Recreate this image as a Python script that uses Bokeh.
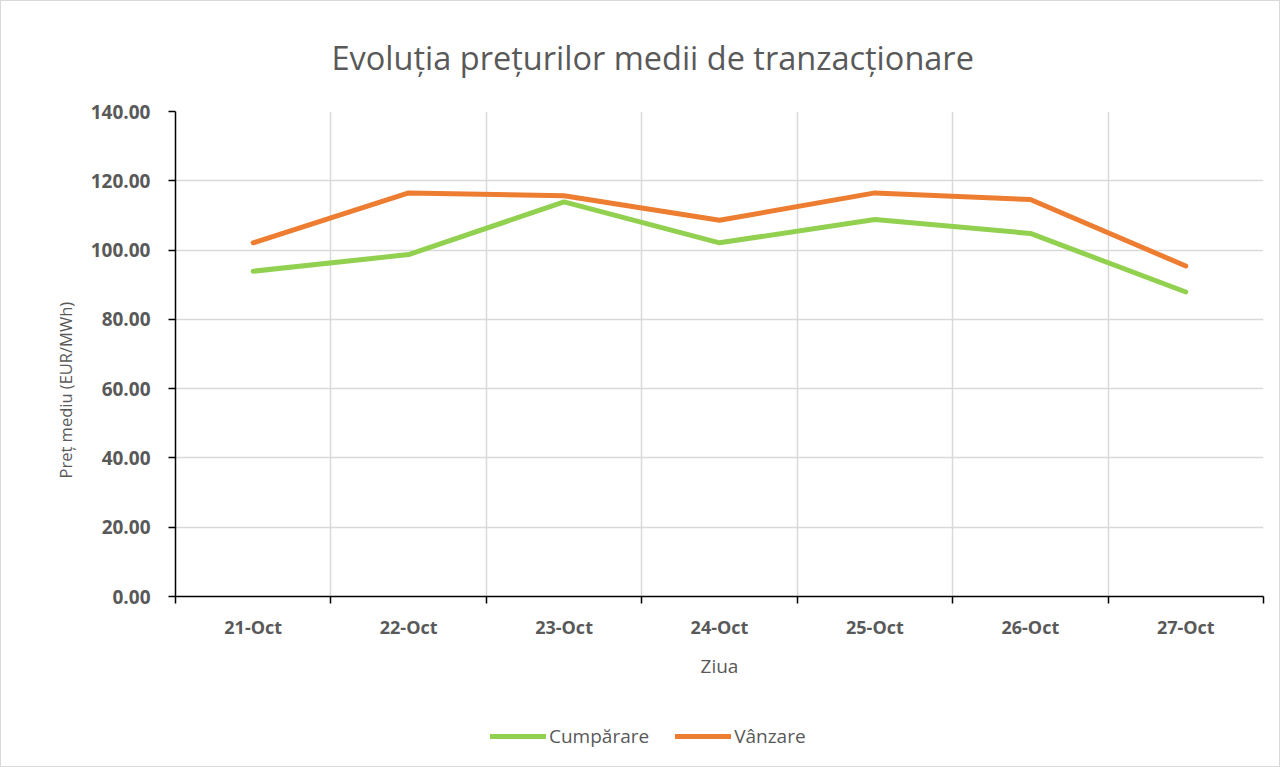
from bokeh.plotting import figure
from bokeh.layouts import column
from bokeh.models import (FixedTicker, Legend, LegendItem, Title, NumeralTickFormatter, Range1d)
from bokeh.embed import file_html
from bokeh.resources import INLINE

days = ["21-Oct", "22-Oct", "23-Oct", "24-Oct", "25-Oct", "26-Oct", "27-Oct"]
cumparare = [93.9, 98.7, 113.9, 102.1, 108.8, 104.8, 87.9]
vanzare = [102.1, 116.5, 115.7, 108.6, 116.5, 114.6, 95.4]
y_ticks = [0, 20, 40, 60, 80, 100, 120, 140]
series_names = ["Cumpărare", "Vânzare"]
series_colors = ["#92D050", "#ED7D31"]

FONT = "Open Sans"
GREY = "#595959"

n = len(days)
xs = [i + 0.5 for i in range(n)]
series_values = [cumparare, vanzare]

p = figure(width=1278, height=700, output_backend="svg", toolbar_location=None,
           x_range=Range1d(0, n), y_range=Range1d(0, 140),
           min_border_left=174, min_border_top=109, min_border_right=16, min_border_bottom=105)
p.outline_line_color = None
p.background_fill_color = "white"
p.border_fill_color = "white"

for vals, col in zip(series_values, series_colors):
    p.line(xs, vals, line_color=col, line_width=5, line_cap="round", line_join="round")

# x axis
xa = p.xaxis[0]
xa.ticker = FixedTicker(ticks=xs, minor_ticks=list(range(0, n + 1)))
xa.major_label_overrides = {x: d for x, d in zip(xs, days)}
xa.major_tick_line_color = None
xa.major_tick_out = 0
xa.major_tick_in = 0
xa.minor_tick_out = 7
xa.minor_tick_in = 0
xa.minor_tick_line_color = "black"
xa.minor_tick_line_width = 1.5
xa.axis_line_color = "black"
xa.axis_line_width = 1.5
xa.major_label_text_font = FONT
xa.major_label_text_font_style = "bold"
xa.major_label_text_font_size = "18px"
xa.major_label_text_color = GREY
xa.major_label_standoff = 11
xa.axis_label = "Ziua"
xa.axis_label_text_font = FONT
xa.axis_label_text_font_style = "normal"
xa.axis_label_text_font_size = "19px"
xa.axis_label_text_color = GREY
xa.axis_label_standoff = 11

# y axis
ya = p.yaxis[0]
ya.ticker = FixedTicker(ticks=y_ticks)
ya.formatter = NumeralTickFormatter(format="0.00")
ya.major_tick_out = 7
ya.major_tick_in = 0
ya.major_tick_line_color = "black"
ya.major_tick_line_width = 1.5
ya.minor_tick_line_color = None
ya.axis_line_color = "black"
ya.axis_line_width = 1.5
ya.major_label_text_font = FONT
ya.major_label_text_font_style = "bold"
ya.major_label_text_font_size = "19px"
ya.major_label_text_color = GREY
ya.major_label_standoff = 18

# grids
p.xgrid.ticker = FixedTicker(ticks=list(range(1, n)))
p.xgrid.grid_line_color = "#d9d9d9"
p.xgrid.grid_line_width = 1.5
p.ygrid.grid_line_color = "#d9d9d9"
p.ygrid.grid_line_width = 1.5

# chart title
p.add_layout(Title(text="Evoluția prețurilor medii de tranzacționare", align="left", offset=156,
                   text_font=FONT, text_font_size="32.5px", text_color=GREY,
                   text_font_style="normal", standoff=63), "above")
# y axis title
p.add_layout(Title(text="Preț mediu (EUR/MWh)", align="left", offset=118,
                   text_font=FONT, text_font_size="16.5px", text_color=GREY,
                   text_font_style="normal", standoff=22), "left")

# legend strip (series drawn again, but fall outside this strip's range)
lg = figure(width=1278, height=65, output_backend="svg", toolbar_location=None,
            x_range=Range1d(0, 1), y_range=Range1d(0, 1), min_border=0)
lg.axis.visible = False
lg.grid.visible = False
lg.outline_line_color = None
items = []
for name, vals, col in zip(series_names, series_values, series_colors):
    r = lg.line(xs, vals, line_color=col, line_width=5, line_cap="round")
    items.append(LegendItem(label=name, renderers=[r]))
legend = Legend(items=items, orientation="horizontal", location=(315, 17),
                border_line_color=None, background_fill_alpha=0,
                glyph_width=56, glyph_height=20, label_standoff=3, spacing=26,
                padding=0, margin=0,
                label_text_font=FONT, label_text_font_size="19px", label_text_color=GREY)
lg.add_layout(legend, "center")

layout = column(p, lg, spacing=0)
layout.styles = {"border": "1px solid #d9d9d9"}

open("out.html", "w").write(file_html(layout, INLINE))
